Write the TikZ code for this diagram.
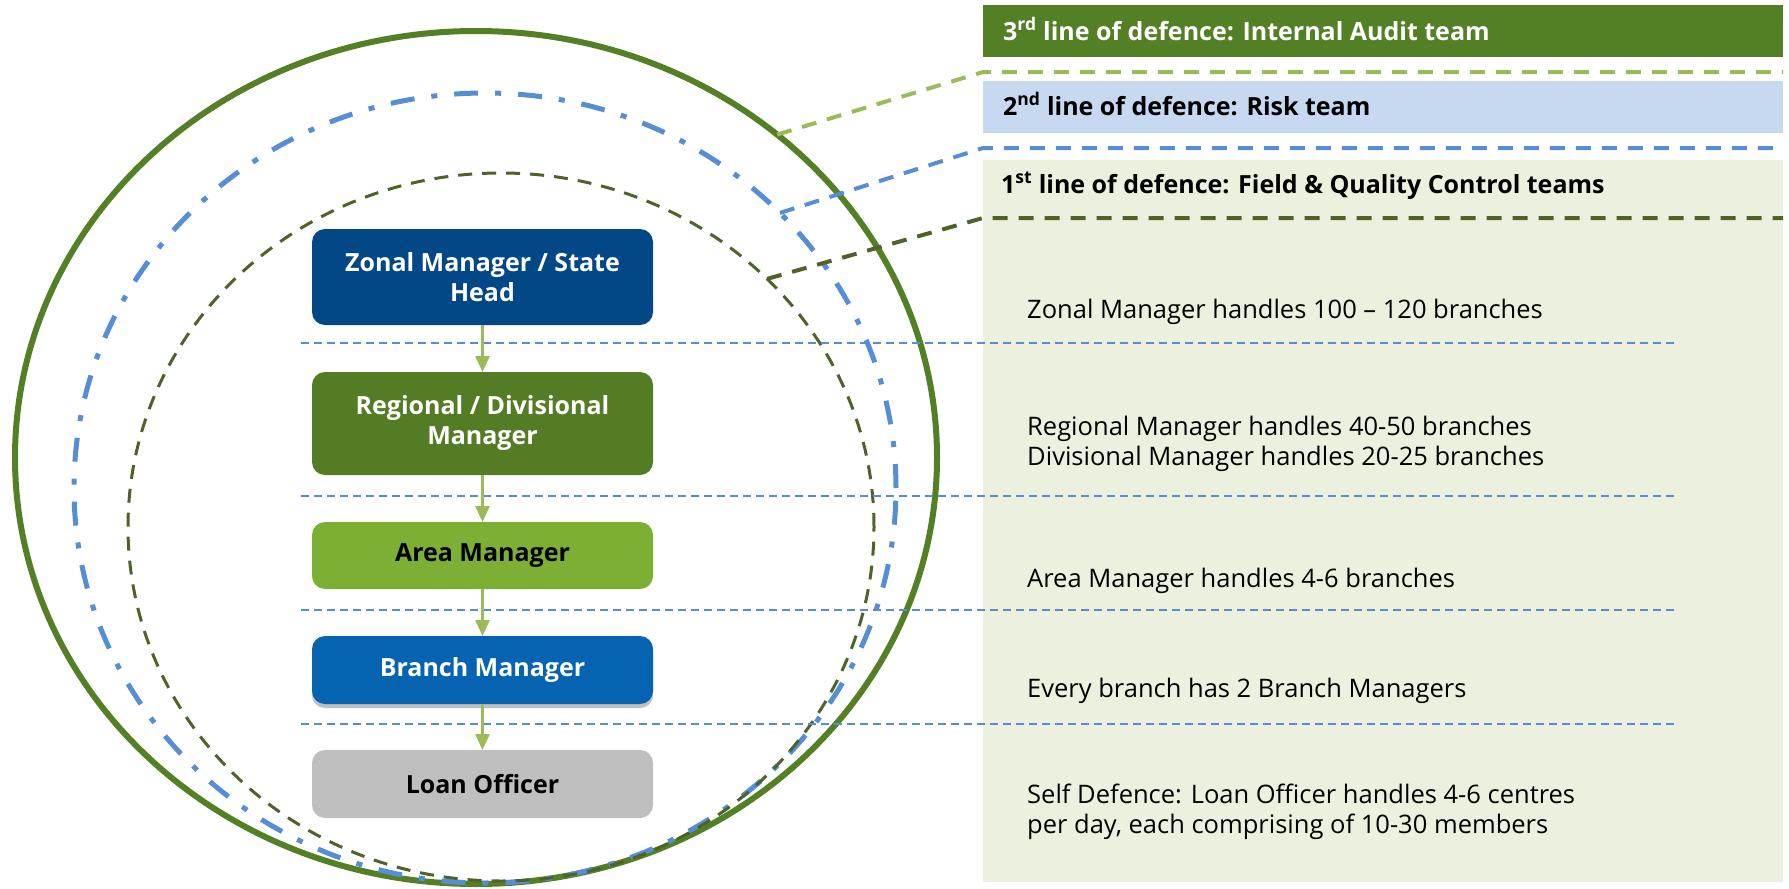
\documentclass[tikz,border=0pt]{standalone}
\usepackage{fontspec}
\setmainfont{Open Sans}
\usetikzlibrary{shapes.geometric,arrows.meta,shadows}
\definecolor{zonal}{RGB}{3,72,134}
\definecolor{regional}{RGB}{84,124,36}
\definecolor{area}{RGB}{124,175,52}
\definecolor{branch}{RGB}{5,99,177}
\definecolor{loan}{RGB}{191,191,191}
\definecolor{outergreen}{RGB}{84,128,37}
\definecolor{midblue}{RGB}{85,142,213}
\definecolor{darkolive}{RGB}{79,98,40}
\definecolor{lightgreen}{RGB}{155,187,89}
\definecolor{paleblue}{RGB}{198,217,241}
\definecolor{palegreen}{RGB}{235,241,222}
\begin{document}
\begin{tikzpicture}[x=1pt,y=-1pt,
  panel/.style={draw=none,inner sep=0pt,outer sep=0pt,minimum width=800pt},
  ring/.style={ellipse,inner sep=0pt,outer sep=0pt},
  orgbox/.style={rounded corners=13pt,minimum width=341pt,inner sep=0pt,outer sep=0pt,align=center,
     font=\bfseries\fontsize{25}{30}\selectfont},
  flow/.style={draw=lightgreen,line width=3pt,-{Triangle[length=16pt,width=14pt]}},
  rowline/.style={draw=midblue,line width=2pt,dash pattern=on 8pt off 5pt},
  body/.style={anchor=base west,inner sep=0pt,font=\fontsize{25.5}{30}\selectfont},
  head/.style={anchor=base west,inner sep=0pt,font=\bfseries\fontsize{25}{30}\selectfont},
  link/.style={line width=4pt,dash pattern=on 15pt off 11pt}
]
\useasboundingbox (0,0) rectangle (1789,889);

% right panels
\node[panel,fill=outergreen,minimum height=52pt] (p3) at (1383,31) {};
\node[panel,fill=paleblue,minimum height=52pt] (p2) at (1383,107) {};
\node[panel,fill=palegreen,minimum height=722pt] (p1) at (1383,521) {};

% rings
\node[ring,draw=outergreen,line width=6pt,minimum width=922pt,minimum height=853pt] (r3) at (476,457.5) {};
\node[ring,draw=midblue,line width=5pt,dash pattern=on 24pt off 17pt on 6pt off 17pt,minimum width=822pt,minimum height=790pt] (r2) at (485,488) {};
\node[ring,draw=darkolive,line width=3pt,dash pattern=on 14pt off 10pt,minimum width=746pt,minimum height=708pt] (r1) at (501,527) {};

% connectors from rings to panels
\coordinate (a3) at (983,72);  \coordinate (b3) at (1783,72);
\coordinate (a2) at (983,148); \coordinate (b2) at (1783,148);
\coordinate (a1) at (983,218); \coordinate (b1) at (1783,218);
\draw[link,draw=lightgreen] (r3.47.8) -- (a3) -- (b3);
\draw[link,draw=midblue] (r2.43.6) -- (a2) -- (b2);
\draw[link,draw=darkolive] (r1.43.1) -- (a1) -- (b1);

% row separators
\coordinate (s1a) at (301,343); \coordinate (s1b) at (1675,343);
\coordinate (s2a) at (301,496); \coordinate (s2b) at (1675,496);
\coordinate (s3a) at (301,610); \coordinate (s3b) at (1675,610);
\coordinate (s4a) at (301,724); \coordinate (s4b) at (1675,724);
\draw[rowline] (s1a) -- (s1b);
\draw[rowline] (s2a) -- (s2b);
\draw[rowline] (s3a) -- (s3b);
\draw[rowline] (s4a) -- (s4b);

% hierarchy boxes
\node[orgbox,fill=zonal,text=white,minimum height=96pt] (zm) at (482.5,277) {Zonal Manager / State\\Head};
\node[orgbox,fill=regional,text=white,minimum height=103pt] (rm) at (482.5,423.5) {Regional / Divisional\\Manager};
\node[orgbox,fill=area,text=black,minimum height=67pt] (am) at (482.5,555.5) {Area Manager};
\node[orgbox,fill=branch,text=white,minimum height=68pt,drop shadow={shadow xshift=0pt,shadow yshift=-4pt,opacity=0.25,fill=black}] (bm) at (482.5,670) {Branch Manager};
\node[orgbox,fill=loan,text=black,minimum height=68pt] (lo) at (482.5,784) {Loan Officer};

\draw[flow] (zm.south) -- (rm.north);
\draw[flow] (rm.south) -- (am.north);
\draw[flow] (am.south) -- (bm.north);
\draw[flow] (bm.south) -- (lo.north);

% panel headings
\node[head,text=white] (h3) at (1003,40) {3\textsuperscript{rd} line of defence: Internal Audit team};
\node[head,text=black] (h2) at (1003,115) {2\textsuperscript{nd} line of defence: Risk team};
\node[head,text=black] (h1) at (1001,193) {1\textsuperscript{st} line of defence: Field \& Quality Control teams};

% descriptions
\node[body] (d1) at (1027,318) {Zonal Manager handles 100 – 120 branches};
\node[body] (d2a) at (1027,435) {Regional Manager handles 40-50 branches};
\node[body] (d2b) at (1027,465) {Divisional Manager handles 20-25 branches};
\node[body] (d3) at (1027,587) {Area Manager handles 4-6 branches};
\node[body] (d4) at (1027,697) {Every branch has 2 Branch Managers};
\node[body] (d5a) at (1027,803) {Self Defence: Loan Officer handles 4-6 centres};
\node[body] (d5b) at (1027,833) {per day, each comprising of 10-30 members};
\end{tikzpicture}
\end{document}
